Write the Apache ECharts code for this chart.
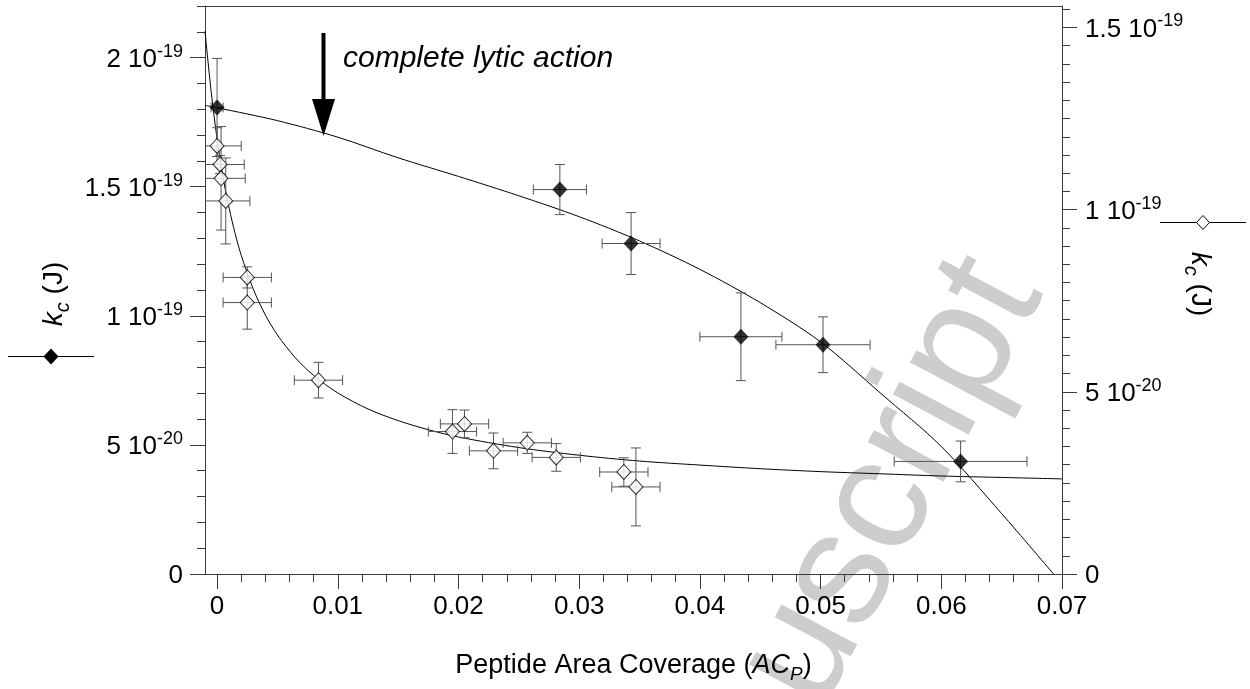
<!DOCTYPE html>
<html><head><meta charset="utf-8">
<script src="https://cdn.jsdelivr.net/npm/echarts@6/dist/echarts.min.js"></script>
<style>html,body{margin:0;padding:0;background:#fff;}#c{width:1250px;height:689px;}</style>
</head><body><div id="c"></div>
<script>
// x: peptide area coverage; y values in units of 1e-20 J
const xTickValues = [0, 0.01, 0.02, 0.03, 0.04, 0.05, 0.06, 0.07];
const xTickLabels = ['0', '0.01', '0.02', '0.03', '0.04', '0.05', '0.06', '0.07'];
const leftTickValues = [0, 5, 10, 15, 20];
const leftTickLabels = [['0', ''], ['5 10', '-20'], ['1 10', '-19'], ['1.5 10', '-19'], ['2 10', '-19']];
const rightTickValues = [0, 5, 10, 15];
const rightTickLabels = [['0', ''], ['5 10', '-20'], ['1 10', '-19'], ['1.5 10', '-19']];

// filled diamonds (left axis)
const filledX = [0.0000, 0.0284, 0.0343, 0.0434, 0.0502, 0.0616];
const filledY = [18.07, 14.89, 12.80, 9.19, 8.88, 4.36];
const filledXErr = [0.0005, 0.0022, 0.0024, 0.0034, 0.0039, 0.0055];
const filledYErr = [1.9, 0.97, 1.2, 1.7, 1.08, 0.79];

// open diamonds (right axis)
const openX = [0.0000, 0.00025, 0.00033, 0.00072, 0.0025, 0.0025, 0.0084, 0.0195, 0.0205, 0.0229, 0.0257, 0.0281, 0.0337, 0.0347];
const openY = [11.75, 11.24, 10.86, 10.24, 8.14, 7.45, 5.32, 3.91, 4.12, 3.38, 3.60, 3.20, 2.80, 2.39];
const openXErr = [0.002, 0.002, 0.002, 0.002, 0.002, 0.002, 0.002, 0.002, 0.002, 0.002, 0.002, 0.002, 0.002, 0.002];
const openYErr = [0.5, 0.25, 1.42, 1.18, 0.29, 0.73, 0.49, 0.6, 0.38, 0.49, 0.29, 0.38, 0.39, 1.07];

// fitted curves
const upperFitX = [-0.001, 0, 0.005, 0.01, 0.015, 0.02, 0.025, 0.03, 0.035, 0.04, 0.045, 0.05, 0.055, 0.06, 0.065, 0.0693];
const upperFitY = [18.15, 18.06, 17.56, 16.92, 16.12, 15.40, 14.65, 13.84, 12.90, 11.80, 10.51, 8.99, 6.99, 4.94, 2.34, 0];
const lowerFitX = [-0.001, -0.0005, 0, 0.0005, 0.001, 0.0015, 0.002, 0.003, 0.004, 0.005, 0.0065, 0.008, 0.01, 0.0125, 0.015, 0.0175, 0.02, 0.025, 0.03, 0.035, 0.04, 0.045, 0.05, 0.055, 0.06, 0.065, 0.07];
const lowerFitY = [14.9, 13.27, 11.94, 10.88, 10.04, 9.34, 8.75, 7.82, 7.11, 6.56, 5.93, 5.45, 4.97, 4.53, 4.21, 3.96, 3.76, 3.47, 3.26, 3.10, 2.99, 2.89, 2.81, 2.75, 2.69, 2.65, 2.61];

// annotation
const arrowX = 0.0088;
const arrowTipY = 17.0;
const annotationText = 'complete lytic action';
const xAxisTitle = ['Peptide Area Coverage (', 'AC', 'P', ')'];
const watermarkText = 'Accepted Manuscript';

const FONT = '"Liberation Sans", Arial, Helvetica, sans-serif';
const AX = '#3a3a3a';

function minorTicks(lo, hi, step) { const a = []; for (let v = lo; v <= hi + 1e-12; v += step) a.push(+v.toFixed(6)); return a; }
function findLabel(vals, labs, v) { for (let i = 0; i < vals.length; i++) if (Math.abs(vals[i] - v) < 1e-9) return labs[i]; return null; }
function supFormatter(vals, labs) {
  return function (v) { const l = findLabel(vals, labs, v); if (!l) return ''; return l[1] ? '{m|' + l[0] + '}{s|' + l[1] + '}' : '{m|' + l[0] + '}'; };
}
const supRich = {
  m: { fontSize: 26, lineHeight: 30, verticalAlign: 'bottom', fontFamily: FONT, color: '#000' },
  s: { fontSize: 18, lineHeight: 18, verticalAlign: 'top', fontFamily: FONT, color: '#000' }
};

const filledData = filledX.map((x, i) => [x, filledY[i]]);
const filledErr = filledX.map((x, i) => [x, filledY[i], filledXErr[i], filledYErr[i]]);
const openData = openX.map((x, i) => [x, openY[i]]);
const openErr = openX.map((x, i) => [x, openY[i], openXErr[i], openYErr[i]]);
const upperData = upperFitX.map((x, i) => [x, upperFitY[i]]);
const lowerData = lowerFitX.map((x, i) => [x, lowerFitY[i]]);

function renderErr(params, api) {
  const x = api.value(0), y = api.value(1), ex = api.value(2), ey = api.value(3);
  const c = api.coord([x, y]);
  const l = api.coord([x - ex, y]), r = api.coord([x + ex, y]);
  const t = api.coord([x, y + ey]), b = api.coord([x, y - ey]);
  const cs = params.coordSys;
  const cap = 5;
  const st = { stroke: '#555', lineWidth: 1 };
  const ch = [];
  const lx = Math.max(l[0], cs.x);
  ch.push({ type: 'line', shape: { x1: lx, y1: c[1], x2: r[0], y2: c[1] }, style: st });
  if (l[0] >= cs.x) ch.push({ type: 'line', shape: { x1: l[0], y1: c[1] - cap, x2: l[0], y2: c[1] + cap }, style: st });
  ch.push({ type: 'line', shape: { x1: r[0], y1: c[1] - cap, x2: r[0], y2: c[1] + cap }, style: st });
  ch.push({ type: 'line', shape: { x1: c[0], y1: t[1], x2: c[0], y2: b[1] }, style: st });
  ch.push({ type: 'line', shape: { x1: c[0] - cap, y1: t[1], x2: c[0] + cap, y2: t[1] }, style: st });
  ch.push({ type: 'line', shape: { x1: c[0] - cap, y1: b[1], x2: c[0] + cap, y2: b[1] }, style: st });
  return { type: 'group', children: ch };
}

const chart = echarts.init(document.getElementById('c'), null, { renderer: 'canvas' });
const XMIN = -0.001, XMAX = 0.07, YLMAX = 22, YRMAX = 15.59;
const kcRich = {
  k: { fontSize: 28, fontStyle: 'italic', fontFamily: FONT, lineHeight: 30, verticalAlign: 'top', fill: '#000' },
  c: { fontSize: 20, fontStyle: 'italic', fontFamily: FONT, lineHeight: 20, padding: [13, 0, 0, 0], verticalAlign: 'top', fill: '#000' },
  n: { fontSize: 28, fontFamily: FONT, lineHeight: 30, verticalAlign: 'top', fill: '#000' }
};

const option = {
  animation: false,
  backgroundColor: '#fff',
  grid: { left: 205, top: 6, width: 857, height: 568, containLabel: false },
  xAxis: [
    {
      type: 'value', position: 'bottom', min: XMIN, max: XMAX,
      axisLine: { show: true, onZero: false, lineStyle: { color: AX, width: 1 } },
      axisTick: { show: true, inside: false, length: 15, customValues: xTickValues, lineStyle: { color: AX } },
      axisLabel: { show: true, customValues: xTickValues, margin: 20, fontSize: 26, fontFamily: FONT, color: '#000',
        formatter: v => findLabel(xTickValues, xTickLabels, v) || '' },
      splitLine: { show: false },
      name: '{n|' + xAxisTitle[0] + '}{i|' + xAxisTitle[1] + '}{p|' + xAxisTitle[2] + '}{n|' + xAxisTitle[3] + '}',
      nameLocation: 'middle', nameGap: 78,
      nameTextStyle: { rich: {
        n: { fontSize: 27, fontFamily: FONT, lineHeight: 30, verticalAlign: 'top', color: '#000' },
        i: { fontSize: 27, fontFamily: FONT, fontStyle: 'italic', lineHeight: 30, verticalAlign: 'top', color: '#000' },
        p: { fontSize: 19, fontFamily: FONT, fontStyle: 'italic', lineHeight: 19, padding: [13, 0, 0, 0], verticalAlign: 'top', color: '#000' }
      } }
    },
    {
      type: 'value', position: 'bottom', min: XMIN, max: XMAX,
      axisLine: { show: false, onZero: false }, axisLabel: { show: false }, splitLine: { show: false },
      axisTick: { show: true, length: 8, customValues: minorTicks(0, 0.07, 0.002), lineStyle: { color: AX } }
    },
    {
      type: 'value', position: 'top', min: XMIN, max: XMAX,
      axisLine: { show: true, onZero: false, lineStyle: { color: AX, width: 1 } },
      axisTick: { show: false }, axisLabel: { show: false }, splitLine: { show: false }
    }
  ],
  yAxis: [
    {
      type: 'value', position: 'left', min: 0, max: YLMAX,
      axisLine: { show: true, onZero: false, lineStyle: { color: AX, width: 1 } },
      axisTick: { show: true, length: 15, customValues: leftTickValues, lineStyle: { color: AX } },
      axisLabel: { show: true, customValues: leftTickValues, margin: 22, formatter: supFormatter(leftTickValues, leftTickLabels), rich: supRich },
      splitLine: { show: false }
    },
    {
      type: 'value', position: 'right', min: 0, max: YRMAX,
      axisLine: { show: true, onZero: false, lineStyle: { color: AX, width: 1 } },
      axisTick: { show: true, length: 15, customValues: rightTickValues, lineStyle: { color: AX } },
      axisLabel: { show: true, customValues: rightTickValues, margin: 23, formatter: supFormatter(rightTickValues, rightTickLabels), rich: supRich },
      splitLine: { show: false }
    },
    {
      type: 'value', position: 'left', min: 0, max: YLMAX,
      axisLine: { show: false, onZero: false }, axisLabel: { show: false }, splitLine: { show: false },
      axisTick: { show: true, length: 8, customValues: minorTicks(0, 22, 1), lineStyle: { color: AX } }
    },
    {
      type: 'value', position: 'right', min: 0, max: YRMAX,
      axisLine: { show: false, onZero: false }, axisLabel: { show: false }, splitLine: { show: false },
      axisTick: { show: true, length: 8, customValues: minorTicks(0, 15.5, 0.5), lineStyle: { color: AX } }
    }
  ],
  series: [
    { type: 'line', name: 'fit filled', xAxisIndex: 0, yAxisIndex: 0, data: upperData, smooth: 0.3,
      showSymbol: false, symbol: 'none', lineStyle: { color: '#000', width: 1 }, z: 3, silent: true },
    { type: 'line', name: 'fit open', xAxisIndex: 0, yAxisIndex: 1, data: lowerData, smooth: 0.3,
      showSymbol: false, symbol: 'none', lineStyle: { color: '#000', width: 1 }, z: 3, silent: true },
    { type: 'custom', name: 'err filled', xAxisIndex: 0, yAxisIndex: 0, data: filledErr, renderItem: renderErr,
      encode: { x: 0, y: 1 }, z: 4, silent: true },
    { type: 'custom', name: 'err open', xAxisIndex: 0, yAxisIndex: 1, data: openErr, renderItem: renderErr,
      encode: { x: 0, y: 1 }, z: 4, silent: true },
    { type: 'scatter', name: 'kc filled', xAxisIndex: 0, yAxisIndex: 0, data: filledData, symbol: 'diamond',
      symbolSize: [15, 16], itemStyle: { color: '#000' }, z: 6 },
    { type: 'scatter', name: 'kc open', xAxisIndex: 0, yAxisIndex: 1, data: openData, symbol: 'diamond',
      symbolSize: [14, 15], itemStyle: { color: '#fff', borderColor: '#000', borderWidth: 1 }, z: 6 }
  ]
};
chart.setOption(option);

const tip = chart.convertToPixel({ xAxisIndex: 0, yAxisIndex: 0 }, [arrowX, arrowTipY]);
const ax = Math.round(tip[0]) + 0.5;
const WM_ANG = 62 * Math.PI / 180;
chart.setOption({
  graphic: [
    { type: 'text', x: 1076, y: 310, rotation: WM_ANG, z: -10, silent: true,
      style: { text: watermarkText, fill: '#cdcdcd', font: '162px ' + FONT, textAlign: 'right', textVerticalAlign: 'bottom', align: 'right', verticalAlign: 'bottom' } },
    { type: 'rect', shape: { x: ax - 2, y: 33, width: 4, height: 68 }, style: { fill: '#000' }, z: 10 },
    { type: 'polygon', shape: { points: [[ax - 11.5, 99], [ax + 11.5, 99], [ax, tip[1] + 1]] }, style: { fill: '#000' }, z: 10 },
    { type: 'text', x: 343, y: 59, z: 10,
      style: { text: annotationText, fill: '#000', font: 'italic 30px ' + FONT, textAlign: 'left', textVerticalAlign: 'middle', align: 'left', verticalAlign: 'middle' } },
    // left legend
    { type: 'line', shape: { x1: 8, y1: 356.5, x2: 94, y2: 356.5 }, style: { stroke: '#000', lineWidth: 1 }, z: 10 },
    { type: 'polygon', shape: { points: [[51, 348.5], [58.5, 356.5], [51, 364.5], [43.5, 356.5]] }, style: { fill: '#000' }, z: 11 },
    { type: 'text', x: 55, y: 294, rotation: Math.PI / 2, z: 10,
      style: { text: '{k|k}{c|c}{n| (J)}', rich: kcRich, textAlign: 'center', textVerticalAlign: 'middle', align: 'center', verticalAlign: 'middle' } },
    // right legend
    { type: 'line', shape: { x1: 1160, y1: 222.5, x2: 1246, y2: 222.5 }, style: { stroke: '#000', lineWidth: 1 }, z: 10 },
    { type: 'polygon', shape: { points: [[1203, 215.5], [1209.5, 222.5], [1203, 229.5], [1196.5, 222.5]] }, style: { fill: '#fff', stroke: '#000', lineWidth: 1 }, z: 11 },
    { type: 'text', x: 1199, y: 284, rotation: -Math.PI / 2, z: 10,
      style: { text: '{k|k}{c|c}{n| (J)}', rich: kcRich, textAlign: 'center', textVerticalAlign: 'middle', align: 'center', verticalAlign: 'middle' } }
  ]
});
</script></body></html>
